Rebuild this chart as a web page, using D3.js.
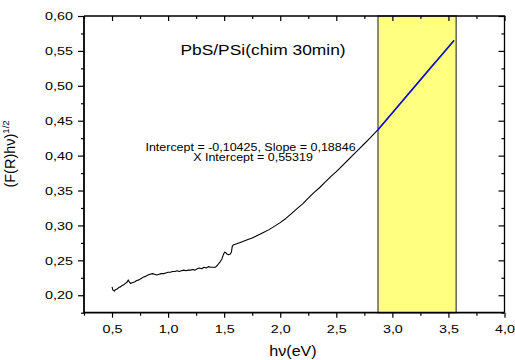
<!DOCTYPE html>
<html>
<head>
<meta charset="utf-8">
<script src="https://d3js.org/d3.v7.min.js"></script>
<style>
    body { margin: 0; background: #fff; }
    svg { display: block; }
    text { font-family: "Liberation Sans", Arial, sans-serif; fill: #000; }
    .tick line { stroke: #000; stroke-width: 1.2; }
</style>
</head>
<body>
<svg id="chart" width="515" height="360"></svg>
<script>
// measured curve, (F(R)hv)^1/2 against hv
const energyEv = [0.500, 0.505, 0.510, 0.520, 0.530, 0.545, 0.560, 0.575, 0.590, 0.605, 0.620, 0.635, 0.645,
    0.655, 0.665, 0.680, 0.700, 0.720, 0.740, 0.760, 0.780, 0.800, 0.820, 0.840, 0.860, 0.880, 0.900,
    0.920, 0.940, 0.960, 0.980, 1.000, 1.020, 1.040, 1.060, 1.080, 1.100, 1.120, 1.140, 1.160, 1.180,
    1.200, 1.220, 1.240, 1.260, 1.280, 1.300, 1.320, 1.340, 1.360, 1.380, 1.400, 1.420, 1.440, 1.460,
    1.480, 1.495, 1.505, 1.515, 1.525, 1.540, 1.555, 1.565, 1.572, 1.580, 1.600, 1.650, 1.700, 1.750,
    1.800, 1.850, 1.900, 1.950, 2.000, 2.050, 2.100, 2.150, 2.200, 2.250, 2.300, 2.350, 2.400, 2.450,
    2.500, 2.550, 2.600, 2.650, 2.700, 2.750, 2.800, 2.870, 2.950, 3.050, 3.150, 3.250, 3.350, 3.450, 3.550];
const sqrtFRhv = [0.212, 0.209, 0.207, 0.206, 0.208, 0.209, 0.211, 0.212, 0.214, 0.215, 0.217, 0.219, 0.222,
    0.219, 0.217, 0.218, 0.219, 0.221, 0.222, 0.224, 0.226, 0.227, 0.229, 0.230, 0.231, 0.230, 0.229,
    0.230, 0.231, 0.231, 0.232, 0.233, 0.233, 0.234, 0.234, 0.235, 0.234, 0.235, 0.236, 0.235, 0.236,
    0.236, 0.237, 0.236, 0.238, 0.239, 0.238, 0.240, 0.239, 0.241, 0.240, 0.240, 0.240, 0.243, 0.247,
    0.252, 0.259, 0.262, 0.261, 0.259, 0.258, 0.259, 0.262, 0.270, 0.272, 0.273, 0.276, 0.279, 0.282,
    0.286, 0.290, 0.294, 0.299, 0.304, 0.310, 0.317, 0.324, 0.331, 0.339, 0.347, 0.354, 0.362, 0.370,
    0.377, 0.385, 0.393, 0.401, 0.409, 0.417, 0.425, 0.437, 0.452, 0.471, 0.490, 0.509, 0.528, 0.546, 0.565];

// linear fit on the highlighted range
const fitRange = [2.872, 3.55];
const fitIntercept = -0.10425;
const fitSlope = 0.18846;
const bandRange = [2.872, 3.569];

const xTicks = [0.5, 1.0, 1.5, 2.0, 2.5, 3.0, 3.5, 4.0];
const xMinor = [0.25, 0.75, 1.25, 1.75, 2.25, 2.75, 3.25, 3.75];
const yTicks = [0.20, 0.25, 0.30, 0.35, 0.40, 0.45, 0.50, 0.55, 0.60];
const yMinor = [0.175, 0.225, 0.275, 0.325, 0.375, 0.425, 0.475, 0.525, 0.575];

const titleText = "PbS/PSi(chim 30min)";
const fitLine1 = "Intercept = -0,10425, Slope = 0,18846";
const fitLine2 = "X Intercept = 0,55319";

const svg = d3.select("#chart");
const L = 84, R = 504.5, T = 16, B = 312.7;
const STRETCH = 1.25;   // the original text is drawn wide

const x = d3.scaleLinear().domain([0.25, 4.0]).range([L, R]);
const y = d3.scaleLinear().domain([0.175, 0.60]).range([B, T]);

const comma = f => v => d3.format(f)(v).replace(".", ",");

// yellow band
svg.append("rect")
    .attr("x", x(bandRange[0]))
    .attr("y", T)
    .attr("width", x(bandRange[1]) - x(bandRange[0]))
    .attr("height", B - T)
    .attr("fill", "#ffff80")
    .attr("stroke", "#5a5a4a")
    .attr("stroke-width", 1.4);

// data
const pts = energyEv.map((e, i) => [e, sqrtFRhv[i]]);
svg.append("path")
    .datum(pts)
    .attr("fill", "none")
    .attr("stroke", "#000")
    .attr("stroke-width", 1.1)
    .attr("stroke-linejoin", "round")
    .attr("d", d3.line().x(d => x(d[0])).y(d => y(d[1])));

// fit
svg.append("path")
    .datum(fitRange.map(e => [e, fitIntercept + fitSlope * e]))
    .attr("fill", "none")
    .attr("stroke", "#1010e0")
    .attr("stroke-width", 1.5)
    .attr("d", d3.line().x(d => x(d[0])).y(d => y(d[1])));

// axes
const gB = svg.append("g").attr("transform", `translate(0,${B})`)
    .call(d3.axisBottom(x).tickValues(xTicks).tickSizeInner(5).tickSizeOuter(0).tickPadding(7).tickFormat(comma(".1f")));
svg.append("g").attr("transform", `translate(0,${B})`)
    .call(d3.axisBottom(x).tickValues(xMinor).tickSizeInner(3).tickSizeOuter(0).tickFormat(""));
const gL = svg.append("g").attr("transform", `translate(${L},0)`)
    .call(d3.axisLeft(y).tickValues(yTicks).tickSizeInner(6).tickSizeOuter(0).tickFormat(comma(".2f")));
svg.append("g").attr("transform", `translate(${L},0)`)
    .call(d3.axisLeft(y).tickValues(yMinor).tickSizeInner(3).tickSizeOuter(0).tickFormat(""));
svg.append("g").attr("transform", `translate(0,${T})`)
    .call(d3.axisTop(x).tickValues(xTicks).tickSizeInner(-5).tickSizeOuter(0).tickFormat(""));
svg.append("g").attr("transform", `translate(0,${T})`)
    .call(d3.axisTop(x).tickValues(xMinor).tickSizeInner(-3).tickSizeOuter(0).tickFormat(""));
svg.append("g").attr("transform", `translate(${R},0)`)
    .call(d3.axisRight(y).tickValues(yTicks).tickSizeInner(-6).tickSizeOuter(0).tickFormat(""));
svg.append("g").attr("transform", `translate(${R},0)`)
    .call(d3.axisRight(y).tickValues(yMinor).tickSizeInner(-3).tickSizeOuter(0).tickFormat(""));
svg.selectAll(".domain").remove();

gB.selectAll("text")
    .attr("font-size", 11.5)
    .attr("font-family", null)
    .attr("transform", `scale(${STRETCH},1)`);
gL.selectAll("text")
    .attr("font-size", 11.5)
    .attr("font-family", null)
    .attr("x", -11 / STRETCH)
    .attr("transform", `scale(${STRETCH},1)`);

// frame
svg.append("path")
    .attr("d", `M${L},${T}H${R}V${B}`)
    .attr("fill", "none").attr("stroke", "#000").attr("stroke-width", 1.3);
svg.append("path")
    .attr("d", `M${L},${T}V${B}H${R}`)
    .attr("fill", "none").attr("stroke", "#000").attr("stroke-width", 1.8);

// texts
function wide(str, cx, cy, size, k) {
    return svg.append("text")
        .attr("transform", `translate(${cx},${cy}) scale(${k},1)`)
        .attr("text-anchor", "middle")
        .attr("font-size", size)
        .text(str);
}
wide(titleText, 263, 55, 14.5, 1.2);
wide(fitLine1, 250.5, 150.5, 10, STRETCH);
wide(fitLine2, 253, 160.5, 10, STRETCH);
wide("hν(eV)", 293, 356, 14, 1.15);

const yl = svg.append("text")
    .attr("transform", "translate(15,154) rotate(-90)")
    .attr("text-anchor", "middle")
    .attr("font-size", 14.5);
yl.append("tspan").text("(F(R)hν)");
yl.append("tspan").attr("font-size", 9.5).attr("dy", -6).text("1/2");
</script>
</body>
</html>
